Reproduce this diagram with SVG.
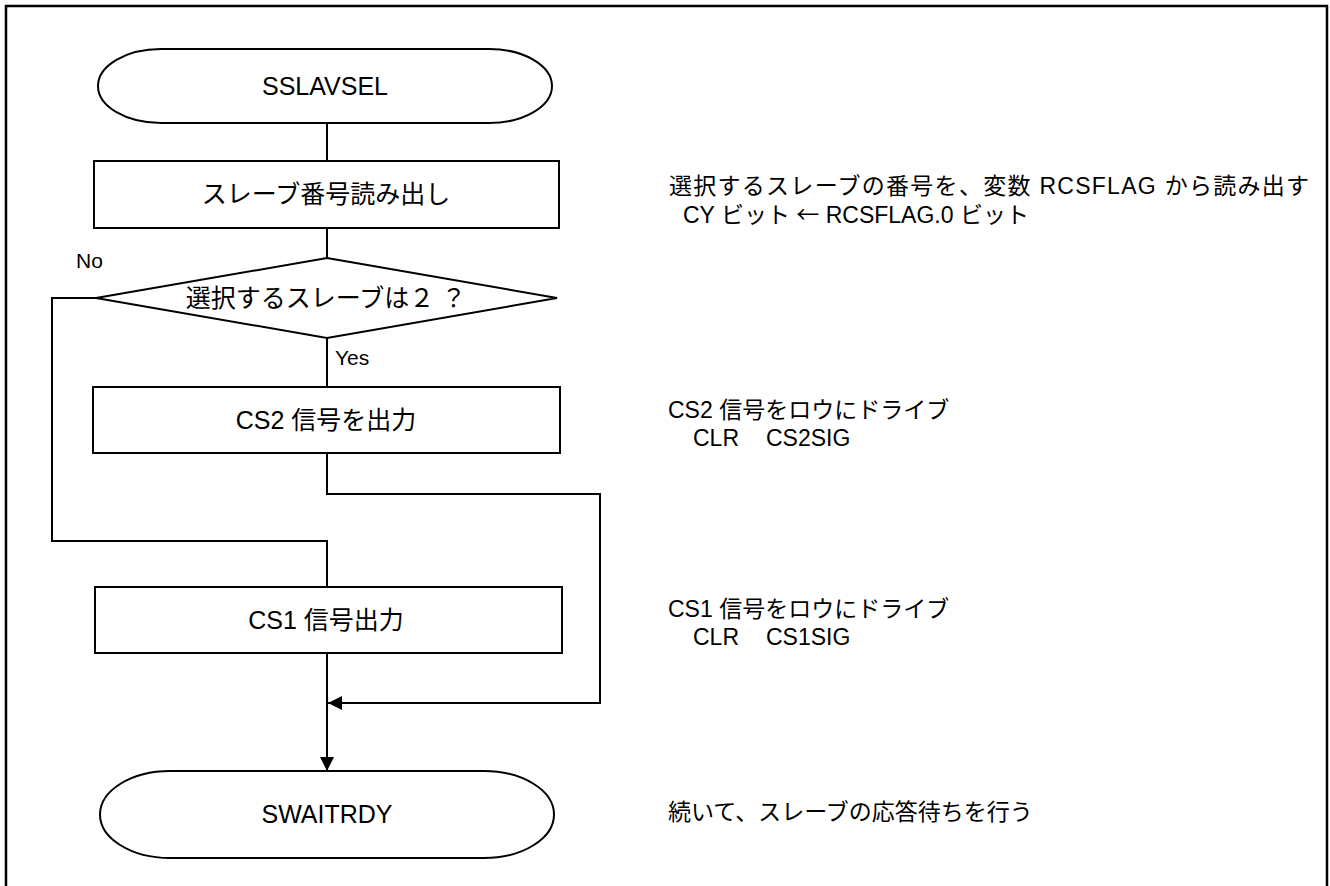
<svg xmlns="http://www.w3.org/2000/svg" width="1330" height="886" viewBox="0 0 1330 886">
<style>
.shape{fill:#fff;stroke:#000;stroke-width:2}
.line{fill:none;stroke:#000;stroke-width:2}
.lbl{font-family:"Liberation Sans","Noto Sans CJK JP",sans-serif;font-size:25px;fill:#000;text-anchor:middle}
.note{font-family:"Liberation Sans","Noto Sans CJK JP",sans-serif;font-size:23px;fill:#000}
.cjk{font-family:"Noto Sans CJK JP",sans-serif}
.yn{font-family:"Liberation Sans","Noto Sans CJK JP",sans-serif;font-size:21px;fill:#000}
</style>
<defs>
<marker id="arr" markerWidth="14" markerHeight="14" refX="14" refY="7" orient="auto" markerUnits="userSpaceOnUse">
<path d="M0,0 L14,7 L0,14 Z" fill="#000"/>
</marker>
</defs>
<rect width="1330" height="886" fill="#fff"/>
<path d="M6,890 V6 H1327 V890" fill="none" stroke="#000" stroke-width="2.5"/>
<g id="connectors">
<line class="line" x1="327" y1="123" x2="327" y2="161"/>
<line class="line" x1="327" y1="228" x2="327" y2="258"/>
<line class="line" x1="327" y1="338" x2="327" y2="387"/>
<path class="line" d="M96,298 H52 V541 H327 V587"/>
<path class="line" d="M327,453 V494 H600 V703 H328" marker-end="url(#arr)"/>
<line class="line" x1="327" y1="653" x2="327" y2="771" marker-end="url(#arr)"/>
<text class="yn" x="76" y="268">No</text>
<text class="yn" x="335" y="365">Yes</text>
</g>
<g id="start">
<rect class="shape" x="98" y="49" width="454" height="74" rx="63" ry="37"/>
<text class="lbl" x="325" y="95">SSLAVSEL</text>
</g>
<g id="read">
<rect class="shape" x="94" y="161" width="465" height="67"/>
<text class="lbl" x="326" y="203">スレーブ番号読み出し</text>
</g>
<g id="decision">
<polygon class="shape" points="327,258 557,298 327,338 96,298"/>
<text class="lbl" x="326" y="307">選択するスレーブは２ ？</text>
</g>
<g id="cs2">
<rect class="shape" x="93" y="387" width="467" height="66"/>
<text class="lbl" x="326" y="429">CS2 信号を出力</text>
</g>
<g id="cs1">
<rect class="shape" x="95" y="587" width="467" height="66"/>
<text class="lbl" x="326" y="629">CS1 信号出力</text>
</g>
<g id="end">
<rect class="shape" x="100" y="771" width="454" height="87" rx="70" ry="43.5"/>
<text class="lbl" x="327" y="823">SWAITRDY</text>
</g>
<g id="notes">
<text class="note" x="669" y="194" textLength="640" lengthAdjust="spacing">選択するスレーブの番号を、変数 RCSFLAG から読み出す</text>
<text class="note" x="683" y="223">CY ビット <tspan class="cjk">←</tspan> RCSFLAG.0 ビット</text>
<text class="note" x="668" y="418">CS2 信号をロウにドライブ</text>
<text class="note" x="693" y="446">CLR</text>
<text class="note" x="766" y="446">CS2SIG</text>
<text class="note" x="668" y="617">CS1 信号をロウにドライブ</text>
<text class="note" x="693" y="645">CLR</text>
<text class="note" x="766" y="645">CS1SIG</text>
<text class="note" x="668" y="820">続いて、スレーブの応答待ちを行う</text>
</g>
</svg>
